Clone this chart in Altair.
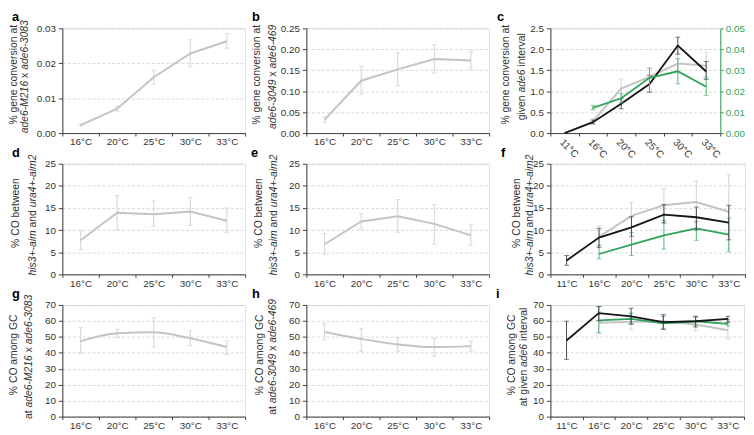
import altair as alt
import pandas as pd

FONT = "Liberation Sans"
TXT = "#333333"
AXC = "#404040"
GRAY, GRAY_E = "#c4c4c4", "#d2d2d2"
BLACK, BLACK_E = "#151515", "#4a4a4a"
GREEN, GREEN_E = "#2da35a", "#4db673"
FS = 10.5

T5 = ["16°C", "20°C", "25°C", "30°C", "33°C"]
T6 = ["11°C", "16°C", "20°C", "25°C", "30°C", "33°C"]

# panel a
A_MEAN = [0.0023, 0.0070, 0.0160, 0.0228, 0.0263]
A_LO = [0.0020, 0.0063, 0.0140, 0.0190, 0.0243]
A_HI = [0.0026, 0.0078, 0.0180, 0.0267, 0.0285]
# panel b
B_MEAN = [0.032, 0.125, 0.152, 0.177, 0.173]
B_LO = [0.025, 0.092, 0.113, 0.143, 0.153]
B_HI = [0.038, 0.160, 0.192, 0.211, 0.195]
# panel c
C_GRAY_MEAN = [0.28, 1.06, 1.34, 1.66, 1.61]
C_GRAY_LO = [0.22, 0.78, 1.05, 1.42, 1.30]
C_GRAY_HI = [0.35, 1.29, 1.55, 1.92, 1.93]
C_BLACK_MEAN = [0.0, 0.26, 0.70, 1.17, 2.09, 1.47]
C_BLACK_LO = [None, 0.22, 0.58, 0.98, 1.88, 1.28]
C_BLACK_HI = [None, 0.31, 0.82, 1.38, 2.29, 1.71]
C_GREEN_MEAN = [0.0120, 0.0166, 0.0264, 0.0295, 0.0221]
C_GREEN_LO = [0.0111, 0.0144, 0.0195, 0.0235, 0.0180]
C_GREEN_HI = [0.0132, 0.0188, 0.0310, 0.0355, 0.0267]
# panel d
D_MEAN = [7.7, 13.9, 13.6, 14.2, 12.1]
D_LO = [5.5, 10.1, 10.9, 11.1, 9.5]
D_HI = [9.9, 17.8, 16.6, 17.4, 15.0]
# panel e
E_MEAN = [6.8, 11.95, 13.1, 11.4, 8.8]
E_LO = [4.5, 10.3, 9.5, 6.8, 6.5]
E_HI = [9.2, 13.7, 16.9, 15.8, 11.3]
# panel f
F_BLACK_MEAN = [3.15, 8.3, 10.6, 13.5, 12.9, 11.7]
F_BLACK_LO = [2.05, 6.1, 8.6, 11.6, 10.0, 7.8]
F_BLACK_HI = [4.25, 10.4, 13.0, 15.8, 15.2, 15.6]
F_GRAY_MEAN = [8.5, 13.2, 15.6, 16.35, 14.15]
F_GRAY_LO = [6.5, 9.4, 11.6, 11.6, 5.7]
F_GRAY_HI = [11.0, 16.3, 19.4, 21.1, 22.6]
F_GREEN_MEAN = [4.6, 6.7, 8.8, 10.4, 9.0]
F_GREEN_LO = [3.5, 4.25, 5.7, 7.7, 5.1]
F_GREEN_HI = [6.6, 9.4, 12.2, 11.95, 12.7]
# panel g
G_MEAN = [47.3, 52.3, 52.9, 49.1, 43.6]
G_LO = [39.6, 49.7, 43.6, 44.6, 38.9]
G_HI = [55.8, 54.8, 61.9, 53.8, 47.7]
# panel h
H_MEAN = [53.1, 48.7, 45.2, 43.6, 44.2]
H_LO = [48.1, 40.8, 41.0, 37.9, 41.0]
H_HI = [58.2, 55.4, 49.3, 49.3, 47.3]
# panel i
I_BLACK_MEAN = [47.7, 64.9, 62.9, 59.2, 59.8, 61.3]
I_BLACK_LO = [35.9, 60.2, 58.2, 54.8, 56.2, 59.2]
I_BLACK_HI = [59.8, 69.0, 68.0, 63.9, 62.9, 62.9]
I_GRAY_MEAN = [58.8, 59.4, 59.8, 57.8, 54.2]
I_GRAY_LO = [51.7, 54.8, 55.4, 53.8, 48.7]
I_GRAY_HI = [65.9, 64.9, 63.9, 62.9, 59.2]
I_GREEN_MEAN = [60.4, 61.3, 58.4, 59.8, 58.2]
I_GREEN_LO = [52.7, 57.8, 54.8, 57.4, 56.8]
I_GREEN_HI = [69.0, 64.9, 62.9, 62.3, 60.8]

# tick values
Y_A = [0, 0.01, 0.02, 0.03]
Y_B = [0, 0.05, 0.10, 0.15, 0.20, 0.25]
Y_C = [0, 0.5, 1.0, 1.5, 2.0, 2.5]
Y_C2 = [0, 0.01, 0.02, 0.03, 0.04, 0.05]
Y_DEF = [0, 5, 10, 15, 20, 25]
Y_GHI = [0, 10, 20, 30, 40, 50, 60, 70]

AW = {" ": 278, "%": 889, "+": 584, "-": 333, "a": 556, "b": 556, "c": 500,
      "d": 556, "e": 556, "g": 556, "h": 556, "i": 222, "m": 833, "n": 556,
      "o": 556, "r": 333, "s": 500, "t": 278, "u": 556, "v": 500, "w": 722,
      "x": 500, "l": 222, "C": 722, "O": 778, "G": 778, "M": 833}


def tw(s):
    return sum(AW.get(ch, 556) for ch in s) * FS / 1000


DUMMY = pd.DataFrame({"k": [0]})


def text_mark(text, x, y, size=FS, angle=0, align="center", style="normal",
              weight="normal", color=TXT):
    return alt.Chart(DUMMY).mark_text(
        text=text, font=FONT, fontSize=size, angle=angle, align=align,
        baseline="alphabetic", fontStyle=style, fontWeight=weight, color=color
    ).encode(x=alt.value(x), y=alt.value(y))


def titles(letter, lx, line1, x1, segs, x2, h):
    marks = [text_mark(letter, lx, -7, size=13, align="left", weight="bold", color="#000000")]
    marks.append(text_mark(line1, x1, h / 2 - 6, angle=270))
    total = sum(tw(s) for s, _ in segs)
    start = h / 2 - 4 + total / 2
    cum = 0.0
    for s, it in segs:
        lead = len(s) - len(s.lstrip(" "))
        pos = start - cum - lead * 0.278 * FS
        marks.append(text_mark(s.strip(), x2, pos, angle=270, align="left",
                               style="italic" if it else "normal"))
        cum += tw(s)
    return marks


def x_enc(temps, angle=0):
    ax = alt.Axis(title=None, grid=False, tickBand="extent", labelAngle=angle,
                  tickSize=3, labelPadding=1, domainColor=AXC, tickColor=AXC,
                  labelColor=TXT, labelFontSize=10, labelFont=FONT)
    return alt.X("t:N", scale=alt.Scale(type="band", domain=temps, paddingInner=0,
                                        paddingOuter=0), axis=ax, bandPosition=0.5)


def y_axis(vals, fmt, orient="left", color=AXC, lcolor=TXT, grid=True):
    return alt.Axis(title=None, values=vals, format=fmt, orient=orient, grid=grid,
                    gridColor="#cfcfcf", gridDash=[3, 2], gridWidth=0.8,
                    tickSize=4 if orient == "left" else 3,
                    labelPadding=3 if orient == "left" else 2,
                    domainColor=color, tickColor=color, labelColor=lcolor,
                    labelFontSize=10, labelFont=FONT)


def series(temps, mean, lo, hi, color, ecolor, xe, ydom, yax, interp="linear", width=1.8):
    df = pd.DataFrame({"t": temps, "m": mean, "lo": lo, "hi": hi})
    err = df.dropna(subset=["lo", "hi"])
    ys = alt.Scale(domain=ydom, nice=False, zero=True)

    def y(f):
        return alt.Y(f + ":Q", scale=ys, axis=yax)

    rule = alt.Chart(err).mark_rule(color=ecolor, strokeWidth=1).encode(x=xe, y=y("lo"), y2="hi:Q")
    t1 = alt.Chart(err).mark_tick(color=ecolor, size=5, thickness=1).encode(x=xe, y=y("lo"))
    t2 = alt.Chart(err).mark_tick(color=ecolor, size=5, thickness=1).encode(x=xe, y=y("hi"))
    line = alt.Chart(df).mark_line(color=color, strokeWidth=width, interpolate=interp).encode(x=xe, y=y("m"))
    return [rule, t1, t2, line]


W1, W2 = 185, 185
WC, WF, WI = 172, 197, 196
H1, H2, H3 = 106, 112, 113

GC = "% gene conversion at"
CO = "% CO between"
CG = "% CO among GC"
SEG_A = [("ade6-M216", True), (" x ", False), ("ade6-3083", True)]
SEG_B = [("ade6-3049", True), (" x ", False), ("ade6-469", True)]
SEG_C = [("given ", False), ("ade6", True), (" interval", False)]
SEG_D = [("his3+-aim", True), (" and ", False), ("ura4+-aim2", True)]
SEG_G = [("at ", False), ("ade6-M216", True), (" x ", False), ("ade6-3083", True)]
SEG_H = [("at ", False), ("ade6-3049", True), (" x ", False), ("ade6-469", True)]
SEG_I = [("at given ", False), ("ade6", True), (" interval", False)]

# a
xe5 = x_enc(T5)
pa = alt.layer(
    *series(T5, A_MEAN, A_LO, A_HI, GRAY, GRAY_E, xe5, [0, 0.03], y_axis(Y_A, ".2f"), "linear", 2),
    *titles("a", -51, GC, -45.5, SEG_A, -35, H1)
).properties(width=W1, height=H1)

pb = alt.layer(
    *series(T5, B_MEAN, B_LO, B_HI, GRAY, GRAY_E, xe5, [0, 0.25], y_axis(Y_B, ".2f"), "linear", 2),
    *titles("b", -55, GC, -47, SEG_B, -31, H1)
).properties(width=W2, height=H1)

xc = x_enc(T6, 45)
c_left = alt.layer(
    *series(T5, C_GRAY_MEAN, C_GRAY_LO, C_GRAY_HI, GRAY, GRAY_E, xc, [0, 2.5], y_axis(Y_C, ".1f"), "linear", 2),
    *series(T6, C_BLACK_MEAN, C_BLACK_LO, C_BLACK_HI, BLACK, BLACK_E, xc, [0, 2.5], y_axis(Y_C, ".1f")),
    *titles("c", -54, GC, -42, SEG_C, -26, H1)
)
c_right = alt.layer(
    *series(T5, C_GREEN_MEAN, C_GREEN_LO, C_GREEN_HI, GREEN, GREEN_E, xc, [0, 0.05],
            y_axis(Y_C2, ".2f", orient="right", color=GREEN, lcolor=GREEN, grid=False))
)
pc = alt.layer(c_left, c_right).resolve_scale(y="independent").properties(width=WC, height=H1)

pd_ = alt.layer(
    *series(T5, D_MEAN, D_LO, D_HI, GRAY, GRAY_E, xe5, [0, 25], y_axis(Y_DEF, "d"), "linear", 2),
    *titles("d", -51, CO, -44, SEG_D, -26.5, H2)
).properties(width=W1, height=H2)

pe = alt.layer(
    *series(T5, E_MEAN, E_LO, E_HI, GRAY, GRAY_E, xe5, [0, 25], y_axis(Y_DEF, "d"), "linear", 2),
    *titles("e", -56, CO, -45, SEG_D, -30, H2)
).properties(width=W2, height=H2)

xe6 = x_enc(T6)
pf = alt.layer(
    *series(T5, F_GRAY_MEAN, F_GRAY_LO, F_GRAY_HI, GRAY, GRAY_E, xe6, [0, 25], y_axis(Y_DEF, "d"), "linear", 2),
    *series(T5, F_GREEN_MEAN, F_GREEN_LO, F_GREEN_HI, GREEN, GREEN_E, xe6, [0, 25], y_axis(Y_DEF, "d")),
    *series(T6, F_BLACK_MEAN, F_BLACK_LO, F_BLACK_HI, BLACK, BLACK_E, xe6, [0, 25], y_axis(Y_DEF, "d")),
    *titles("f", -50, CO, -31, SEG_D, -18, H2)
).properties(width=WF, height=H2)

pg = alt.layer(
    *series(T5, G_MEAN, G_LO, G_HI, GRAY, GRAY_E, xe5, [0, 70], y_axis(Y_GHI, "d"), "monotone", 2),
    *titles("g", -51, CG, -46, SEG_G, -31, H3)
).properties(width=W1, height=H3)

ph = alt.layer(
    *series(T5, H_MEAN, H_LO, H_HI, GRAY, GRAY_E, xe5, [0, 70], y_axis(Y_GHI, "d"), "monotone", 2),
    *titles("h", -55, CG, -44, SEG_H, -31, H3)
).properties(width=W2, height=H3)

pi = alt.layer(
    *series(T5, I_GRAY_MEAN, I_GRAY_LO, I_GRAY_HI, GRAY, GRAY_E, xe6, [0, 70], y_axis(Y_GHI, "d"), "linear", 2),
    *series(T5, I_GREEN_MEAN, I_GREEN_LO, I_GREEN_HI, GREEN, GREEN_E, xe6, [0, 70], y_axis(Y_GHI, "d")),
    *series(T6, I_BLACK_MEAN, I_BLACK_LO, I_BLACK_HI, BLACK, BLACK_E, xe6, [0, 70], y_axis(Y_GHI, "d")),
    *titles("i", -55, CG, -36, SEG_I, -24, H3)
).properties(width=WI, height=H3)

chart = alt.concat(
    pa, pb, pc, pd_, pe, pf, pg, ph, pi,
    columns=3, spacing={"row": 31, "column": 62}, bounds="flush", align="each"
).properties(
    padding={"left": 0, "top": 0, "right": 0, "bottom": 0}
).configure_view(stroke=None).configure(background="white")

chart.save("out.html", embed_options={"renderer": "svg", "actions": False})
